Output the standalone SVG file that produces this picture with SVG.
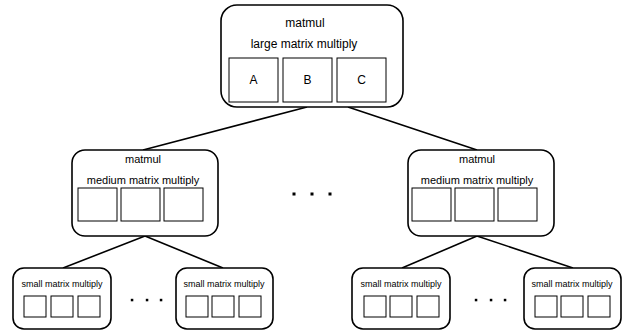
<svg xmlns="http://www.w3.org/2000/svg" width="627" height="334" viewBox="0 0 627 334">
  <style>
    .node { fill: #fff; stroke: #000; stroke-width: 1.6; }
    .cell { fill: #fff; stroke: #000; stroke-width: 1; }
    .edge { stroke: #000; stroke-width: 1.6; fill: none; }
    .dot { fill: #000; }
    text { font-family: "Liberation Sans", Arial, sans-serif; fill: #000; text-anchor: middle; }
    .t12 { font-size: 12px; }
    .t11 { font-size: 11px; }
    .t9 { font-size: 9px; }
  </style>

  <!-- tree connectors -->
  <g id="connectors">
    <line class="edge" x1="307" y1="107" x2="143" y2="150"/>
    <line class="edge" x1="348" y1="107" x2="477" y2="150"/>
    <line class="edge" x1="145" y1="236" x2="63" y2="268"/>
    <line class="edge" x1="145" y1="236" x2="223" y2="268"/>
    <line class="edge" x1="477" y1="236" x2="402" y2="268"/>
    <line class="edge" x1="477" y1="236" x2="573" y2="268"/>
  </g>

  <!-- root: large multiply -->
  <g id="large">
    <rect class="node" x="221" y="5" width="182" height="102" rx="16"/>
    <text class="t12" x="305" y="27">matmul</text>
    <text class="t12" x="304" y="48">large matrix multiply</text>
    <rect class="cell" x="229" y="58" width="49" height="44"/>
    <rect class="cell" x="283" y="58" width="49" height="44"/>
    <rect class="cell" x="337" y="58" width="49" height="44"/>
    <text class="t12" x="253.5" y="84">A</text>
    <text class="t12" x="307.5" y="84">B</text>
    <text class="t12" x="361.5" y="84">C</text>
  </g>

  <!-- medium multiplies -->
  <g id="medium-left">
    <rect class="node" x="72" y="150" width="146" height="86" rx="13"/>
    <text class="t11" x="143" y="163">matmul</text>
    <text class="t11" x="143" y="184">medium matrix multiply</text>
    <rect class="cell" x="78" y="188" width="39" height="33"/>
    <rect class="cell" x="121" y="188" width="39" height="33"/>
    <rect class="cell" x="164" y="188" width="39" height="33"/>
  </g>

  <g id="medium-right">
    <rect class="node" x="408" y="150" width="146" height="86" rx="13"/>
    <text class="t11" x="477" y="163">matmul</text>
    <text class="t11" x="477" y="184">medium matrix multiply</text>
    <rect class="cell" x="412" y="188" width="39" height="33"/>
    <rect class="cell" x="455" y="188" width="39" height="33"/>
    <rect class="cell" x="498" y="188" width="39" height="33"/>
  </g>

  <!-- ellipsis between medium multiplies -->
  <g id="ellipsis-mid">
    <rect class="dot" x="292.5" y="192.5" width="3" height="3"/>
    <rect class="dot" x="310.5" y="192.5" width="3" height="3"/>
    <rect class="dot" x="328.5" y="192.5" width="3" height="3"/>
  </g>

  <!-- small multiplies -->
  <g id="small-1">
    <rect class="node" x="13" y="268" width="98" height="61" rx="11"/>
    <text class="t9" x="62" y="287">small matrix multiply</text>
    <rect class="cell" x="24" y="296" width="22" height="21"/>
    <rect class="cell" x="51" y="296" width="22" height="21"/>
    <rect class="cell" x="78" y="296" width="22" height="21"/>
  </g>

  <g id="small-2">
    <rect class="node" x="176" y="268" width="97" height="61" rx="11"/>
    <text class="t9" x="224" y="287">small matrix multiply</text>
    <rect class="cell" x="186" y="296" width="22" height="21"/>
    <rect class="cell" x="212" y="296" width="22" height="21"/>
    <rect class="cell" x="239" y="296" width="22" height="21"/>
  </g>

  <g id="small-3">
    <rect class="node" x="352" y="268" width="98" height="61" rx="11"/>
    <text class="t9" x="401" y="287">small matrix multiply</text>
    <rect class="cell" x="364" y="296" width="22" height="21"/>
    <rect class="cell" x="390" y="296" width="22" height="21"/>
    <rect class="cell" x="417" y="296" width="22" height="21"/>
  </g>

  <g id="small-4">
    <rect class="node" x="524" y="268" width="97" height="61" rx="11"/>
    <text class="t9" x="572" y="287">small matrix multiply</text>
    <rect class="cell" x="535" y="296" width="22" height="21"/>
    <rect class="cell" x="561" y="296" width="22" height="21"/>
    <rect class="cell" x="588" y="296" width="22" height="21"/>
  </g>

  <!-- ellipses between small multiplies -->
  <g id="ellipsis-left">
    <rect class="dot" x="130.8" y="298.8" width="2.5" height="2.5"/>
    <rect class="dot" x="145.8" y="298.8" width="2.5" height="2.5"/>
    <rect class="dot" x="159.8" y="298.8" width="2.5" height="2.5"/>
  </g>
  <g id="ellipsis-right">
    <rect class="dot" x="474.8" y="298.8" width="2.5" height="2.5"/>
    <rect class="dot" x="489.8" y="298.8" width="2.5" height="2.5"/>
    <rect class="dot" x="503.8" y="298.8" width="2.5" height="2.5"/>
  </g>
</svg>
